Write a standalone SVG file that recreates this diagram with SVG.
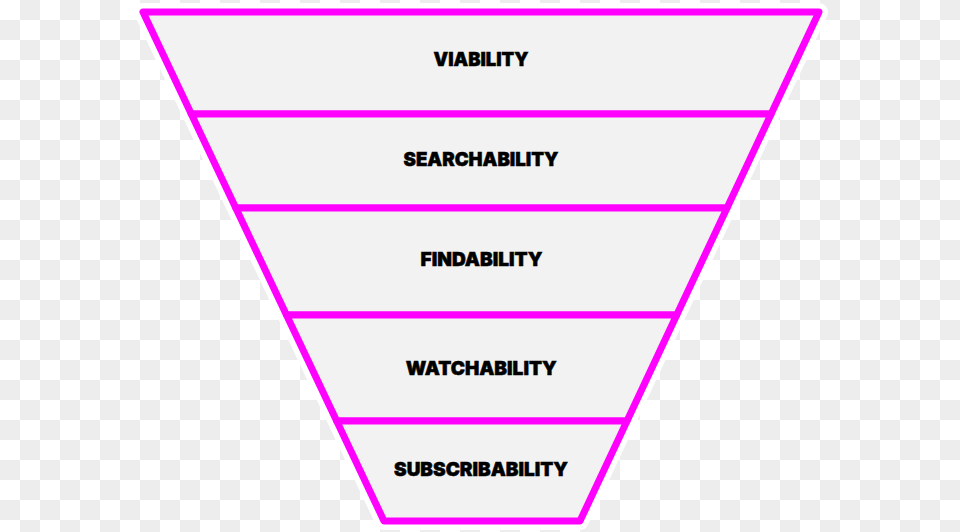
<svg xmlns="http://www.w3.org/2000/svg" width="960" height="532" viewBox="0 0 960 532">
<defs>
<pattern id="checker" x="0" y="0" width="40" height="40" patternUnits="userSpaceOnUse">
<rect x="0" y="0" width="40" height="40" fill="#FFFFFF"/>
<rect x="20" y="0" width="20" height="20" fill="#EDEDED"/>
<rect x="0" y="20" width="20" height="20" fill="#EDEDED"/>
</pattern>
<style>
.band{fill:#F2F2F2;stroke:#FF00FF;stroke-width:7;stroke-linejoin:round;}
.lbl{font-family:Inter,"Liberation Sans",sans-serif;font-weight:900;font-size:19px;fill:#000;stroke:#000;stroke-width:0.5;text-anchor:middle;}
</style>
</defs>
<rect width="960" height="532" fill="url(#checker)"/>
<polygon points="143,12 819,12 580,521 384,521" fill="#FFFFFF" stroke="#FFFFFF" stroke-width="18" stroke-linejoin="round"/>
<g id="viability">
<polygon class="band" points="143,12 819,12 771.1,114 191.3,114"/>
<text class="lbl" x="481" y="66" textLength="95" lengthAdjust="spacingAndGlyphs">VIABILITY</text>
</g>
<g id="searchability">
<polygon class="band" points="191.3,114 771.1,114 727,208 235.8,208"/>
<text class="lbl" x="481" y="166" textLength="155" lengthAdjust="spacingAndGlyphs">SEARCHABILITY</text>
</g>
<g id="findability">
<polygon class="band" points="235.8,208 727,208 676.7,315 286.5,315"/>
<text class="lbl" x="481.5" y="266" textLength="122" lengthAdjust="spacingAndGlyphs">FINDABILITY</text>
</g>
<g id="watchability">
<polygon class="band" points="286.5,315 676.7,315 627,421 336.7,421"/>
<text class="lbl" x="481.3" y="375" textLength="151" lengthAdjust="spacingAndGlyphs">WATCHABILITY</text>
</g>
<g id="subscribability">
<polygon class="band" points="336.7,421 627,421 580,521 384,521"/>
<text class="lbl" x="481" y="476" textLength="174" lengthAdjust="spacingAndGlyphs">SUBSCRIBABILITY</text>
</g>
<g id="connectors"></g>
</svg>
